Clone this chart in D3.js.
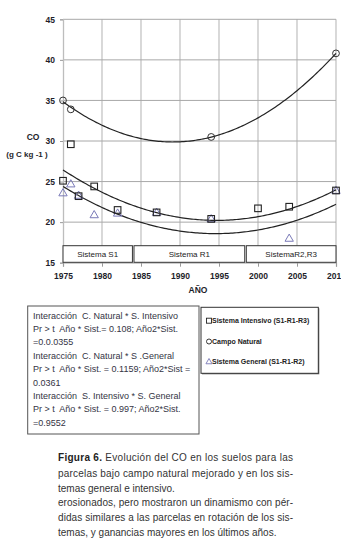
<!DOCTYPE html>
<html>
<head>
<meta charset="utf-8">
<script src="https://cdn.jsdelivr.net/npm/d3@7/dist/d3.min.js"></script>
<style>
  html, body { margin: 0; padding: 0; background: #fff; }
  svg { display: block; font-family: "Liberation Sans", Arial, sans-serif; }
</style>
</head>
<body>
<svg id="fig" width="350" height="553"></svg>
<script>
// Carbono orgánico (g C kg-1) por sistema y año
const natYears = [1975, 1976, 1994, 2010];
const natCO    = [35.0, 33.9, 30.5, 40.8];

const intYears = [1975, 1976, 1977, 1979, 1982, 1987, 1994, 2000, 2004, 2010];
const intCO    = [25.1, 29.6, 23.2, 24.4, 21.5, 21.2, 20.4, 21.7, 21.9, 23.9];

const genYears = [1975, 1976, 1977, 1979, 1982, 1987, 1994, 2004, 2010];
const genCO    = [23.6, 24.7, 23.3, 20.9, 21.1, 21.2, 20.4, 18.0, 23.9];

// Tendencias cuadráticas: valor ajustado en tres años de referencia
const trendYears = [1975, 1990, 2010];
const natTrend   = [34.84, 29.9, 40.8];
const intTrend   = [26.44, 20.57, 23.98];
const genTrend   = [24.4, 18.9, 22.2];

const xTicks = [1975, 1980, 1985, 1990, 1995, 2000, 2005, 2010];
const yTicks = [15, 20, 25, 30, 35, 40, 45];

// Periodos de rotación
const periodLabels = ["Sistema S1", "Sistema R1", "SistemaR2,R3"];
const periodStart  = [1975, 1984.1, 1998.5];
const periodEnd    = [1983.9, 1998.3, 2010];

const legendLabels = ["Sistema Intensivo (S1-R1-R3)", "Campo Natural", "Sistema General (S1-R1-R2)"];

const statsLines = [
  "Interacción  C. Natural * S. Intensivo",
  "Pr > t  Año * Sist.= 0.108; Año2*Sist.",
  "=0.0.0355",
  "Interacción  C. Natural * S .General",
  "Pr > t  Año * Sist. = 0.1159; Año2*Sist =",
  "0.0361",
  "Interacción  S. Intensivo * S. General",
  "Pr > t  Año * Sist. = 0.997; Año2*Sist.",
  "=0.9552"
];

const captionLines = [
  { bold: "Figura 6.", text: " Evolución del CO en los suelos para las", justify: true },
  { text: "parcelas bajo campo natural mejorado y en los sis-", justify: true },
  { text: "temas general e intensivo.", justify: false },
  { text: "erosionados, pero mostraron un dinamismo con pér-", justify: true },
  { text: "didas similares a las parcelas en rotación de los sis-", justify: true },
  { text: "temas, y ganancias mayores en los últimos años.", justify: false }
];

const svg = d3.select("#fig");

// La lámina termina a la derecha justo tras el último punto
svg.append("defs").append("clipPath").attr("id", "sheet")
  .append("rect").attr("x", 0).attr("y", 0).attr("width", 341).attr("height", 300);

const x = d3.scaleLinear().domain([1975, 2010]).range([63, 336]);
const y = d3.scaleLinear().domain([15, 45]).range([262.7, 19.3]);

const chart = svg.append("g").attr("clip-path", "url(#sheet)");

// Cuadrícula
const g = chart.append("g");
g.selectAll("line.vg").data(xTicks.slice(1)).join("line")
  .attr("x1", d => x(d)).attr("x2", d => x(d))
  .attr("y1", y(45)).attr("y2", y(15))
  .attr("stroke", "#c4c4c4").attr("stroke-width", 1.3);
g.selectAll("line.hg").data(yTicks.slice(1)).join("line")
  .attr("x1", x(1975)).attr("x2", x(2010))
  .attr("y1", d => y(d)).attr("y2", d => y(d))
  .attr("stroke", "#a8a8a8").attr("stroke-width", 1);

// Ejes
const yAxis = d3.axisLeft(y).tickValues(yTicks).tickSize(3).tickPadding(5);
const xAxis = d3.axisBottom(x).tickValues(xTicks).tickSize(4).tickPadding(6).tickFormat(d3.format("d"));

const ya = chart.append("g").attr("transform", `translate(${x(1975)},0)`).call(yAxis);
const xa = chart.append("g").attr("transform", `translate(0,${y(15)})`).call(xAxis);
[ya, xa].forEach(a => {
  a.select(".domain").attr("stroke", "#bdbdbd").attr("stroke-width", 1.3);
  a.selectAll(".tick line").attr("stroke", "#9a9a9a");
  a.selectAll(".tick text")
    .attr("fill", "#1e1e2a")
    .style("font-size", "8.5px")
    .style("font-weight", "bold")
    .style("font-family", "'Liberation Sans', Arial, sans-serif");
});

// Parábola que pasa por los tres valores de tendencia
function parabola(xs, ys) {
  return t => xs.reduce((acc, xi, i) => {
    let term = ys[i];
    xs.forEach((xj, j) => { if (j !== i) term *= (t - xj) / (xi - xj); });
    return acc + term;
  }, 0);
}

const curveLine = d3.line().x(d => x(d[0])).y(d => y(d[1]));
const span = d3.range(1975, 2010.01, 0.25);
[natTrend, intTrend, genTrend].forEach(vals => {
  const f = parabola(trendYears, vals);
  chart.append("path")
    .attr("d", curveLine(span.map(t => [t, f(t)])))
    .attr("fill", "none").attr("stroke", "#222").attr("stroke-width", 1.2);
});

// Recuadros de periodos
const pg = chart.append("g");
periodLabels.forEach((lab, i) => {
  const x0 = x(periodStart[i]), x1 = x(periodEnd[i]);
  pg.append("rect")
    .attr("x", x0).attr("y", 245.7).attr("width", x1 - x0).attr("height", 16.6)
    .attr("fill", "#fff").attr("stroke", "#333").attr("stroke-width", 1);
  pg.append("text")
    .attr("x", (x0 + x1) / 2).attr("y", 257)
    .attr("text-anchor", "middle")
    .attr("fill", "#222")
    .style("font-size", "8px")
    .text(lab);
});

// Puntos
const triColor = "#7a7ab8";
chart.append("g").selectAll("path").data(genYears.map((t, i) => [t, genCO[i]])).join("path")
  .attr("transform", d => `translate(${x(d[0])},${y(d[1]) + 0.5})`)
  .attr("d", d3.symbol(d3.symbolTriangle, 30))
  .attr("fill", "none").attr("stroke", triColor).attr("stroke-width", 1);

chart.append("g").selectAll("rect").data(intYears.map((t, i) => [t, intCO[i]])).join("rect")
  .attr("x", d => x(d[0]) - 3.3).attr("y", d => y(d[1]) - 3.3)
  .attr("width", 6.6).attr("height", 6.6)
  .attr("fill", "none").attr("stroke", "#222").attr("stroke-width", 1.1);

chart.append("g").selectAll("circle").data(natYears.map((t, i) => [t, natCO[i]])).join("circle")
  .attr("cx", d => x(d[0])).attr("cy", d => y(d[1])).attr("r", 3.4)
  .attr("fill", "none").attr("stroke", "#333").attr("stroke-width", 1);

// Títulos de ejes
svg.append("text").attr("x", 33).attr("y", 140).attr("text-anchor", "middle")
  .attr("fill", "#1e1e2a").style("font-size", "8.5px").style("font-weight", "bold").text("CO");
svg.append("text").attr("x", 27).attr("y", 157).attr("text-anchor", "middle")
  .attr("fill", "#1e1e2a").style("font-size", "8px").style("font-weight", "bold").text("(g C kg -1 )");
svg.append("text").attr("x", 198).attr("y", 293).attr("text-anchor", "middle")
  .attr("fill", "#1e1e2a").style("font-size", "8.5px").style("font-weight", "bold").text("AÑO");

// Recuadro de estadísticos
svg.append("rect").attr("x", 27.7).attr("y", 306).attr("width", 171.3).attr("height", 128)
  .attr("fill", "#fff").attr("stroke", "#555").attr("stroke-width", 1);
svg.append("g").selectAll("text").data(statsLines).join("text")
  .attr("x", 33).attr("y", (d, i) => 318.5 + i * 13.4)
  .attr("fill", "#343444")
  .style("font-size", "9px")
  .style("white-space", "pre")
  .text(d => d);

// Leyenda
const lg = svg.append("g");
lg.append("rect").attr("x", 202).attr("y", 308.3).attr("width", 117.3).attr("height", 66)
  .attr("fill", "#666");
lg.append("rect").attr("x", 201).attr("y", 307.3).attr("width", 117.3).attr("height", 66)
  .attr("fill", "#fff").attr("stroke", "#333").attr("stroke-width", 1);
const legY = [320.7, 341.5, 361.7];
lg.append("rect").attr("x", 206.5).attr("y", legY[0] - 2.5).attr("width", 5).attr("height", 5)
  .attr("fill", "none").attr("stroke", "#222").attr("stroke-width", 0.9);
lg.append("circle").attr("cx", 209).attr("cy", legY[1]).attr("r", 2.5)
  .attr("fill", "none").attr("stroke", "#222").attr("stroke-width", 0.9);
lg.append("path").attr("transform", `translate(209,${legY[2] + 0.3})`)
  .attr("d", d3.symbol(d3.symbolTriangle, 16))
  .attr("fill", "none").attr("stroke", triColor).attr("stroke-width", 0.9);
lg.selectAll("text").data(legendLabels).join("text")
  .attr("x", 212).attr("y", (d, i) => legY[i] + 2.4)
  .attr("fill", "#222")
  .style("font-size", "7px").style("font-weight", "bold")
  .text(d => d);

// Pie de figura
const cap = svg.append("g").attr("fill", "#333").style("font-size", "10px");
const capY = [461, 476.5, 492, 506, 521, 536];
captionLines.forEach((ln, i) => {
  const t = cap.append("text").attr("x", 58).attr("y", capY[i]);
  if (ln.justify) t.attr("textLength", 235).attr("lengthAdjust", "spacing");
  if (ln.bold) t.append("tspan").style("font-weight", "bold").attr("fill", "#222").text(ln.bold);
  t.append("tspan").text(ln.text);
});
</script>
</body>
</html>
